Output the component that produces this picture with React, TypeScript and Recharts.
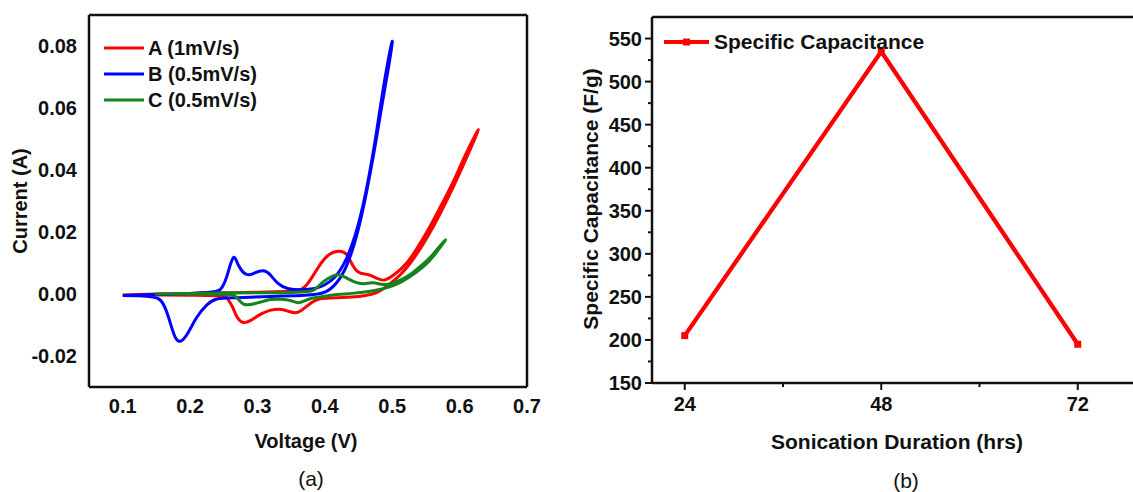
import React from 'react';
import { LineChart, Line, XAxis, YAxis, ReferenceLine, Legend } from 'recharts';

const FONT = '"Liberation Sans", Arial, Helvetica, sans-serif';

// (a) CV curves, voltage (V) / current (A)
const voltA = [0.1, 0.15, 0.2, 0.25, 0.3, 0.34, 0.362, 0.375, 0.39, 0.405, 0.42, 0.432, 0.442, 0.452, 0.465, 0.478, 0.488, 0.5, 0.515, 0.53, 0.55, 0.57, 0.59, 0.61, 0.628,
  0.612, 0.592, 0.572, 0.552, 0.532, 0.512, 0.492, 0.476, 0.46, 0.44, 0.41, 0.392, 0.38, 0.37, 0.358, 0.345, 0.333, 0.32, 0.305, 0.29, 0.279, 0.27, 0.263, 0.256, 0.245, 0.2, 0.15, 0.1];
const currA = [-0.0003, 0, 0.0002, 0.0004, 0.0006, 0.0008, 0.0013, 0.0035, 0.0085, 0.0125, 0.0138, 0.0128, 0.009, 0.0068, 0.0062, 0.005, 0.0045, 0.0058, 0.0085, 0.0125, 0.0195, 0.0275, 0.036, 0.0455, 0.053,
  0.0448, 0.0352, 0.0263, 0.0183, 0.0115, 0.0062, 0.0025, 0.0004, -0.0005, -0.001, -0.0013, -0.0016, -0.0028, -0.0045, -0.006, -0.0055, -0.0049, -0.0052, -0.0065, -0.0085, -0.0092, -0.0075, -0.0042, -0.0016, -0.0006, -0.0004, -0.0003, -0.0003];

const voltB = [0.1, 0.15, 0.2, 0.23, 0.245, 0.255, 0.264, 0.272, 0.284, 0.296, 0.308, 0.318, 0.33, 0.345, 0.365, 0.385, 0.4, 0.415, 0.43, 0.445, 0.46, 0.475, 0.488, 0.5,
  0.494, 0.486, 0.476, 0.462, 0.448, 0.433, 0.418, 0.4, 0.37, 0.32, 0.27, 0.24, 0.225, 0.21, 0.197, 0.186, 0.177, 0.168, 0.158, 0.145, 0.125, 0.1];
const currB = [-0.0005, -0.0002, 0.0002, 0.0006, 0.0015, 0.006, 0.0117, 0.0092, 0.0063, 0.0068, 0.0075, 0.0064, 0.0035, 0.0018, 0.0014, 0.0018, 0.003, 0.0055, 0.0105, 0.019, 0.032, 0.05, 0.068, 0.0815,
  0.0725, 0.0625, 0.0495, 0.033, 0.0195, 0.0095, 0.0038, 0.0006, -0.0004, -0.0008, -0.0012, -0.0016, -0.0035, -0.0075, -0.0125, -0.0152, -0.0135, -0.0075, -0.0025, -0.001, -0.0006, -0.0005];

const voltC = [0.148, 0.2, 0.25, 0.3, 0.35, 0.37, 0.383, 0.397, 0.41, 0.42, 0.432, 0.445, 0.458, 0.471, 0.486, 0.5, 0.515, 0.53, 0.545, 0.56, 0.579,
  0.562, 0.545, 0.525, 0.505, 0.485, 0.465, 0.44, 0.412, 0.395, 0.382, 0.37, 0.36, 0.35, 0.335, 0.32, 0.305, 0.292, 0.28, 0.272, 0.265, 0.25, 0.2, 0.148];
const currC = [0, 0.0002, 0.0003, 0.0004, 0.0005, 0.0007, 0.0012, 0.0038, 0.0056, 0.0062, 0.0052, 0.0038, 0.0033, 0.0036, 0.0031, 0.0034, 0.0048, 0.0068, 0.0095, 0.0127, 0.0175,
  0.0124, 0.0086, 0.0054, 0.003, 0.0016, 0.0008, 0.0002, -0.0003, -0.0009, -0.0013, -0.0022, -0.0028, -0.0022, -0.0017, -0.0018, -0.0026, -0.0033, -0.0033, -0.0018, -0.0004, -0.0001, 0, 0];

const seriesNames = ['A (1mV/s)', 'B (0.5mV/s)', 'C (0.5mV/s)'];
const seriesColors = ['#ff0000', '#0000ff', '#13851a'];
const voltTicks = [0.1, 0.2, 0.3, 0.4, 0.5, 0.6, 0.7];
const currTicks = [-0.02, 0, 0.02, 0.04, 0.06, 0.08];

// (b) specific capacitance vs sonication time
const durations = [24, 48, 72];
const capacitance = [205, 535, 195];
const durTicks = [24, 48, 72];
const durMinor = [36, 60];
const capTicks = [150, 200, 250, 300, 350, 400, 450, 500, 550];
const capMinor = [175, 225, 275, 325, 375, 425, 475, 525];

const toPoints = (v: number[], c: number[]) => v.map((x, i) => ({ v: x, i: c[i] }));
const cvSeries = [toPoints(voltA, currA), toPoints(voltB, currB), toPoints(voltC, currC)];
const capData = durations.map((d, i) => ({ d, c: capacitance[i] }));

const INK = '#111';
const bold = { fontFamily: FONT, fontWeight: 700, fill: INK };

const CvLegend = () => (
  <div style={{ fontFamily: FONT, fontWeight: 700, fontSize: 20, color: INK }}>
    {seriesNames.map((n, k) => (
      <div key={n} style={{ display: 'flex', alignItems: 'center', height: 26 }}>
        <svg width={44} height={8}>
          <line x1={0} x2={40} y1={4} y2={4} stroke={seriesColors[k]} strokeWidth={3} />
        </svg>
        <span style={{ whiteSpace: 'nowrap' }}>{n}</span>
      </div>
    ))}
  </div>
);

const CapLegend = () => (
  <div style={{ display: 'flex', alignItems: 'center', fontFamily: FONT, fontWeight: 700, fontSize: 21, color: INK }}>
    <svg width={50} height={10}>
      <line x1={0} x2={45} y1={5} y2={5} stroke="#ff0000" strokeWidth={4} />
      <rect x={19} y={1.5} width={7} height={7} fill="#ff0000" />
    </svg>
    <span style={{ whiteSpace: 'nowrap' }}>Specific Capacitance</span>
  </div>
);

const CapYTick = (props: any) => {
  const { x, y, payload } = props;
  const major = capTicks.includes(payload.value);
  return (
    <g>
      <line x1={x} x2={x - (major ? 7 : 4)} y1={y} y2={y} stroke={INK} strokeWidth={2} />
      {major && (
        <text x={x - 10} y={y} dy="0.36em" textAnchor="end" fontSize={20} {...bold}>
          {payload.value}
        </text>
      )}
    </g>
  );
};

const DurXTick = (props: any) => {
  const { x, y, payload } = props;
  const major = durTicks.includes(payload.value);
  return (
    <g>
      <line x1={x} x2={x} y1={y} y2={y + (major ? 7 : 4)} stroke={INK} strokeWidth={2} />
      {major && (
        <text x={x} y={y + 14} dy="0.71em" textAnchor="middle" fontSize={20} {...bold}>
          {payload.value}
        </text>
      )}
    </g>
  );
};

const label = (text: string, x: number, y: number, size: number, weight: number, rotate = false) => (
  <div
    style={{
      position: 'absolute', left: x, top: y, transform: `translate(-50%, -50%)${rotate ? ' rotate(-90deg)' : ''}`,
      fontFamily: FONT, fontWeight: weight, fontSize: size, color: INK, whiteSpace: 'nowrap', lineHeight: 1,
    }}
  >
    {text}
  </div>
);

export default function App() {
  return (
    <div style={{ position: 'absolute', left: 0, top: 0, width: 1133, height: 492, overflow: 'hidden', background: '#fff' }}>
      <div style={{ position: 'absolute', left: 0, top: 0 }}>
        <LineChart width={560} height={492} margin={{ top: 15, right: 33, bottom: 0, left: 0 }}>
          <XAxis
            dataKey="v" type="number" domain={[0.05, 0.7]} ticks={voltTicks} interval={0} allowDataOverflow
            height={105} tickSize={0} tickMargin={12} tickLine={false}
            axisLine={{ stroke: INK, strokeWidth: 2.5 }}
            tick={{ ...bold, fontSize: 20 }} tickFormatter={(v: number) => v.toFixed(1)}
          />
          <YAxis
            type="number" domain={[-0.03, 0.09]} ticks={currTicks} interval={0} allowDataOverflow
            width={89} tickSize={0} tickMargin={12} tickLine={false}
            axisLine={{ stroke: INK, strokeWidth: 2.5 }}
            tick={{ ...bold, fontSize: 20 }} tickFormatter={(v: number) => v.toFixed(2)}
          />
          <ReferenceLine y={0.09} stroke={INK} strokeWidth={2.5} />
          <ReferenceLine x={0.7} stroke={INK} strokeWidth={2.5} />
          {cvSeries.map((pts, k) => (
            <Line
              key={seriesNames[k]} data={pts} dataKey="i" name={seriesNames[k]} type="natural"
              stroke={seriesColors[k]} strokeWidth={3} dot={false} activeDot={false} isAnimationActive={false}
            />
          ))}
          <Legend
            layout="horizontal" verticalAlign="middle" align="center" content={<CvLegend />}
            wrapperStyle={{ left: 104, top: 35, width: 220, height: 80 }}
          />
        </LineChart>
      </div>
      {label('Current (A)', 20, 201, 20, 700, true)}
      {label('Voltage (V)', 306, 441, 20, 700)}
      {label('(a)', 311, 478, 21, 400)}

      <div style={{ position: 'absolute', left: 560, top: 0 }}>
        <LineChart width={616} height={492} data={capData} margin={{ top: 17, right: 0, bottom: 0, left: 0 }}>
          <XAxis
            dataKey="d" type="number" domain={[20, 84]} ticks={[...durTicks, ...durMinor].sort((a, b) => a - b)}
            interval={0} allowDataOverflow height={109} tickSize={0} tickMargin={0} tickLine={false}
            axisLine={{ stroke: INK, strokeWidth: 2.5 }} tick={<DurXTick />}
          />
          <YAxis
            type="number" domain={[150, 575]} ticks={[...capTicks, ...capMinor].sort((a, b) => a - b)}
            interval={0} allowDataOverflow width={92} tickSize={0} tickMargin={0} tickLine={false}
            axisLine={{ stroke: INK, strokeWidth: 2.5 }} tick={<CapYTick />}
          />
          <ReferenceLine y={575} stroke={INK} strokeWidth={2.5} />
          <Line
            dataKey="c" type="linear" stroke="#ff0000" strokeWidth={4.3} isAnimationActive={false} activeDot={false}
            dot={(p: any) => <rect key={p.index} x={p.cx - 3.5} y={p.cy - 3.5} width={7} height={7} fill="#ff0000" />}
          />
          <Legend
            layout="horizontal" verticalAlign="middle" align="center" content={<CapLegend />}
            wrapperStyle={{ left: 104, top: 30, width: 280, height: 26 }}
          />
        </LineChart>
      </div>
      {label('Specific Capacitance (F/g)', 590, 199, 21, 700, true)}
      {label('Sonication Duration (hrs)', 897, 441, 21, 700)}
      {label('(b)', 906, 480, 21, 400)}
    </div>
  );
}
